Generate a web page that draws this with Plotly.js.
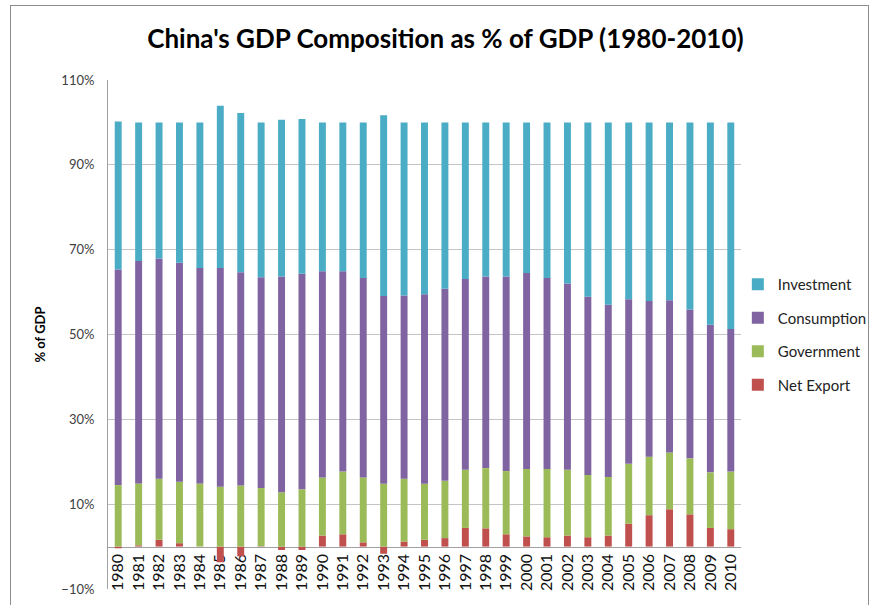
<!DOCTYPE html>
<html>
<head>
<meta charset="utf-8">
<script src="https://cdn.plot.ly/plotly-3.0.1.min.js"></script>
<style>
  html, body { margin: 0; padding: 0; background: #fff; overflow: hidden; }
  #wrap { position: relative; width: 870px; height: 605px; }
  #chart { width: 870px; height: 605px; }
  #frame { position: absolute; left: 10px; top: 5px; width: 857px; height: 700px;
           border: 1px solid #8c8c8c; pointer-events: none; }
</style>
</head>
<body>
<div id="wrap">
  <div id="chart"></div>
  <div id="frame"></div>
</div>
<script>
const years = ['1980','1981','1982','1983','1984','1985','1986','1987','1988','1989',
  '1990','1991','1992','1993','1994','1995','1996','1997','1998','1999',
  '2000','2001','2002','2003','2004','2005','2006','2007','2008','2009','2010'];

const netExport = [-0.4, 0.3, 1.6, 0.8, 0.0, -3.7, -2.3, 0.1, -0.8, -0.8,
  2.6, 2.9, 1.0, -1.7, 1.2, 1.6, 2.0, 4.4, 4.3, 2.9,
  2.4, 2.2, 2.6, 2.2, 2.6, 5.4, 7.4, 8.8, 7.6, 4.4, 4.1];

const government = [14.5, 14.6, 14.4, 14.5, 14.9, 14.1, 14.4, 13.7, 12.8, 13.5,
  13.7, 14.8, 15.3, 14.8, 14.8, 13.2, 13.5, 13.7, 14.2, 14.9,
  15.9, 16.1, 15.5, 14.7, 13.8, 14.1, 13.8, 13.4, 13.2, 13.1, 13.6];

const consumption = [50.8, 52.4, 51.9, 51.6, 50.8, 51.6, 50.3, 49.7, 50.9, 50.8,
  48.6, 47.2, 47.0, 44.3, 43.2, 44.7, 45.3, 45.0, 45.2, 45.9,
  46.2, 45.0, 43.9, 42.0, 40.6, 38.8, 36.7, 35.9, 35.1, 34.8, 33.6];

const investment = [34.9, 32.7, 32.1, 33.1, 34.3, 38.2, 37.5, 36.5, 36.9, 36.5,
  35.1, 35.1, 36.7, 42.6, 40.8, 40.5, 39.2, 36.9, 36.3, 36.3,
  35.5, 36.7, 38.0, 41.1, 43.0, 41.7, 42.1, 41.9, 44.1, 47.7, 48.7];

const seriesNames = ['Net Export', 'Government', 'Consumption', 'Investment'];
const seriesValues = [netExport, government, consumption, investment];
const seriesColors = ['#c0504d', '#9bbb59', '#8064a2', '#4bacc6'];

const traces = seriesNames.map((name, i) => ({
  type: 'bar',
  name: name,
  x: years,
  y: seriesValues[i],
  legendgroup: 'g' + i,
  legendrank: 10 - i,
  marker: { color: seriesColors[i], line: { width: 0 } },
  hoverinfo: 'x+y+name'
}));

const font = 'Lato, "Open Sans", "DejaVu Sans", sans-serif';

const layout = {
  width: 870,
  height: 605,
  paper_bgcolor: 'rgba(0,0,0,0)',
  plot_bgcolor: '#ffffff',
  margin: { l: 108, r: 129, t: 80, b: 16, pad: 0, autoexpand: false },
  barmode: 'relative',
  bargap: 0.66,
  font: { family: font, color: '#404040' },
  title: {
    text: "<b>China's GDP Composition as % of GDP (1980-2010)</b>",
    font: { family: font, size: 26, color: '#000000' },
    x: 0.512, xanchor: 'center',
    y: 0.935, yanchor: 'middle', yref: 'container'
  },
  xaxis: {
    type: 'category',
    anchor: 'free',
    position: 10 / 120,
    layer: 'below traces',
    showline: true,
    linecolor: '#a0a0a0',
    linewidth: 1,
    showgrid: false,
    ticks: '',
    tickangle: -90,
    tickfont: { family: font, size: 16, color: '#111111' },
    range: [-0.5, 30.5],
    fixedrange: true
  },
  yaxis: {
    range: [-10, 110],
    tick0: -10,
    dtick: 20,
    ticksuffix: '%',
    showline: true,
    linecolor: '#a0a0a0',
    linewidth: 1,
    showgrid: true,
    gridcolor: '#c4c4c4',
    gridwidth: 1,
    zeroline: false,
    ticks: '',
    ticklabelstandoff: 10,
    tickfont: { family: font, size: 13, color: '#404040' },
    title: {
      text: '<b>% of GDP</b>',
      font: { family: font, size: 13, color: '#000000' },
      standoff: 12
    },
    fixedrange: true
  },
  legend: {
    x: 0.995, xanchor: 'left',
    y: 0.5, yanchor: 'middle',
    traceorder: 'grouped',
    tracegroupgap: 11,
    font: { family: font, size: 15, color: '#222222' },
    bgcolor: 'rgba(0,0,0,0)'
  },
  showlegend: true
};

Plotly.newPlot('chart', traces, layout, { displayModeBar: false, staticPlot: true });
</script>
</body>
</html>
